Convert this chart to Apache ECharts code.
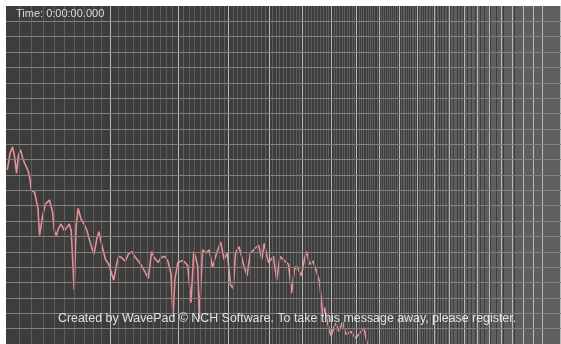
<!DOCTYPE html>
<html>
<head>
<meta charset="utf-8">
<script src="https://cdn.jsdelivr.net/npm/echarts@6/dist/echarts.min.js"></script>
<style>
  html, body { margin: 0; padding: 0; background: #ffffff; }
  #chart { width: 561px; height: 344px; }
</style>
</head>
<body>
<div id="chart"></div>
<script>
// Frequency axis is logarithmic in (f + offset), so 0 Hz sits at the left edge.
const FREQ_OFFSET_KHZ = 1.47;
const NYQUIST_KHZ = 22.05;
const MINOR_STEP_KHZ = 0.1;
const MAJOR_EVERY = 10;          // a bright line every 1 kHz

const LEVEL_TOP_DB = 0;
const LEVEL_BOTTOM_DB = -110;
const LEVEL_STEP_DB = 5;

const timeLabel = 'Time: 0:00:00.000';
const watermarkText = 'Created by WavePad \u00A9 NCH Software. To take this message away, please register.';

// Spectrum (kHz, dB)
const freqKHz = [
  0.0095, 0.0293, 0.0494, 0.0630, 0.0797, 0.0936, 0.1106, 0.1287, 0.1445, 0.1581,
  0.1727, 0.1849, 0.1988, 0.2262, 0.2541, 0.2686, 0.2945, 0.3208, 0.3566, 0.3838,
  0.4022, 0.4208, 0.4395, 0.4652, 0.4970, 0.5263, 0.5461, 0.5661, 0.5965, 0.6169,
  0.6377, 0.6691, 0.7010, 0.7335, 0.7553, 0.8109, 0.8449, 0.8679, 0.9027, 0.9465,
  0.9862, 1.0476, 1.0851, 1.1105, 1.1489, 1.1973, 1.2410, 1.2855, 1.3362, 1.3781,
  1.4207, 1.4740, 1.5224, 1.5715, 1.6123, 1.6736, 1.7205, 1.7792, 1.8325, 1.8817,
  1.9151, 1.9487, 1.9998, 2.0865, 2.1396, 2.1754, 2.2351, 2.2850, 2.3223, 2.3599,
  2.3922, 2.4267, 2.4555, 2.5200, 2.5875, 2.6542, 2.7219, 2.7780, 2.8266, 2.8993,
  2.9711, 3.0440, 3.1046, 3.1568, 3.2351, 3.2888, 3.3526, 3.4318, 3.5123, 3.6368,
  3.7233, 3.8086, 3.8689, 3.9860, 4.1223, 4.2142, 4.3077, 4.4519, 4.5610, 4.6510,
  4.7423, 4.8039, 4.9607, 5.0566, 5.1213, 5.2296, 5.3430, 5.4549, 5.5686, 5.6279,
  5.6857, 5.7444, 5.8665, 5.9870, 6.0982, 6.1733, 6.2874, 6.4304, 6.5601, 6.7607,
  6.9664, 7.3191, 7.4812, 8.8078
];
const levelDb = [
  -53.34, -48.13, -45.84, -48.75, -54.38, -48.75, -46.78, -49.69, -51.25, -51.78,
  -53.75, -55.94, -60.00, -60.63, -65.84, -74.69, -68.44, -64.38, -63.13, -66.88,
  -73.13, -74.69, -72.50, -70.94, -73.13, -71.88, -70.94, -73.13, -92.41, -71.56,
  -65.84, -69.38, -70.94, -73.13, -75.63, -80.94, -75.63, -73.44, -77.81, -82.50,
  -84.06, -89.28, -84.06, -81.47, -81.88, -83.03, -80.63, -79.91, -81.88, -83.03,
  -84.38, -86.56, -88.75, -79.91, -81.88, -83.44, -81.88, -81.47, -83.13, -87.19,
  -101.25, -88.75, -83.44, -82.81, -83.75, -84.59, -96.56, -79.91, -81.88, -84.59,
  -101.88, -88.75, -79.38, -80.41, -79.38, -85.09, -81.47, -78.75, -76.78, -82.50,
  -80.41, -90.84, -91.88, -80.41, -78.34, -80.94, -84.59, -87.72, -80.41, -78.84,
  -77.81, -82.50, -77.28, -83.53, -81.47, -89.28, -81.47, -83.03, -84.06, -93.44,
  -85.63, -84.59, -87.72, -82.50, -79.91, -84.06, -83.03, -86.16, -89.78, -95.00,
  -101.25, -98.13, -103.34, -107.50, -104.38, -103.34, -105.94, -102.81, -106.88, -105.94,
  -108.13, -104.69, -110.63, -116.88
];

const toAxis = f => f + FREQ_OFFSET_KHZ;

// Vertical frequency grid: every 100 Hz, brighter every 1 kHz.
const freqGrid = [];
for (let i = 1; i * MINOR_STEP_KHZ <= NYQUIST_KHZ; i++) {
  const major = i % MAJOR_EVERY === 0;
  freqGrid.push({
    xAxis: toAxis(+(i * MINOR_STEP_KHZ).toFixed(2)),
    lineStyle: major
      ? { color: '#b8b8b8', width: 1, type: 'solid' }
      : { color: '#5e5e5e', width: 1, type: 'solid' }
  });
}

// Horizontal level grid, drawn above the frequency lines.
const levelGrid = [];
for (let v = LEVEL_TOP_DB - LEVEL_STEP_DB; v >= LEVEL_BOTTOM_DB; v -= LEVEL_STEP_DB) {
  levelGrid.push({ yAxis: v });
}

const gridLineSeries = (name, z, data, lineStyle) => ({
  name, type: 'line', data: [], z, silent: true,
  markLine: {
    silent: true,
    symbol: ['none', 'none'],
    label: { show: false },
    emphasis: { disabled: true },
    animation: false,
    lineStyle,
    data
  }
});

const chart = echarts.init(document.getElementById('chart'), null, { renderer: 'canvas' });
chart.setOption({
  backgroundColor: '#ffffff',
  animation: false,
  grid: {
    left: 6, top: 6, right: -7, bottom: -14,
    show: true, backgroundColor: '#3d3d3d', borderWidth: 0
  },
  xAxis: {
    type: 'log',
    min: toAxis(0),
    max: toAxis(NYQUIST_KHZ),
    show: false
  },
  yAxis: {
    type: 'value',
    min: LEVEL_BOTTOM_DB,
    max: LEVEL_TOP_DB,
    interval: LEVEL_STEP_DB,
    show: false
  },
  series: [
    gridLineSeries('freq-grid', 1, freqGrid, { type: 'solid', width: 1 }),
    gridLineSeries('level-grid', 2, levelGrid, { type: 'solid', width: 1, color: '#898072' }),
    {
      name: 'Spectrum',
      type: 'line',
      z: 3,
      showSymbol: false,
      symbol: 'none',
      smooth: false,
      lineStyle: { color: '#e98f9c', width: 1.6 },
      data: freqKHz.map((f, i) => [toAxis(f), levelDb[i]])
    }
  ],
  graphic: [
    {
      type: 'text', left: 16, top: 8, z: 10,
      style: {
        text: timeLabel, fill: '#dcdcdc',
        font: '11px "Liberation Sans", Arial, sans-serif'
      }
    },
    {
      type: 'text', left: 58, top: 313, z: 10,
      style: {
        text: watermarkText, fill: 'rgba(236,238,246,0.92)',
        font: '12.4px "Liberation Sans", Arial, sans-serif'
      }
    }
  ]
});
</script>
</body>
</html>
